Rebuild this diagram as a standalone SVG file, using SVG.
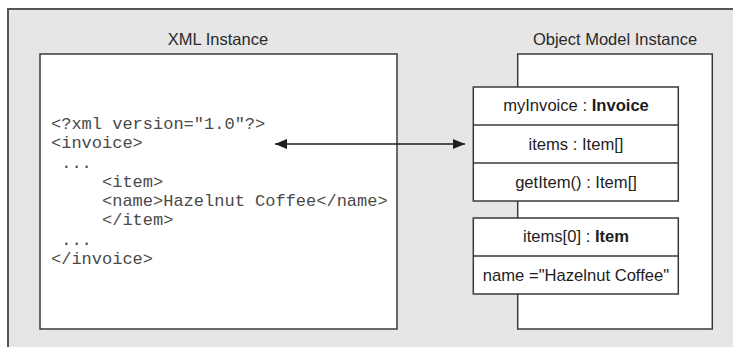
<svg xmlns="http://www.w3.org/2000/svg" width="733" height="347" viewBox="0 0 733 347">
<defs>
<style>
.title{font-family:"Liberation Sans",Arial,sans-serif;font-size:16.5px;fill:#2a2a2a;text-anchor:middle}
.code{font-family:"Liberation Mono","Courier New",monospace;font-size:17px;fill:#4a4a4a;white-space:pre}
.lbl{font-family:"Liberation Sans",Arial,sans-serif;font-size:16.6px;fill:#1e1e1e;text-anchor:middle}
.box{fill:#fff;stroke:#3a3a3a;stroke-width:1.5}
.conn{stroke:#1e1e1e;stroke-width:1.3;fill:none}
</style>
<marker id="ah" viewBox="0 0 12 10" refX="12" refY="5" markerWidth="12" markerHeight="10" markerUnits="userSpaceOnUse" orient="auto-start-reverse">
<path d="M0,0 L12,5 L0,10 Z" fill="#1e1e1e"/>
</marker>
</defs>
<rect x="8" y="9" width="740" height="350" fill="#e6e6e7" stroke="#555" stroke-width="2"/>
<g id="xml-instance">
<text class="title" x="218" y="45">XML Instance</text>
<rect class="box" x="40" y="54" width="357" height="275"/>
<text class="code" x="51" y="129">&lt;?xml version="1.0"?&gt;</text>
<text class="code" x="51" y="148.3">&lt;invoice&gt;</text>
<text class="code" x="51" y="167.5"> ...</text>
<text class="code" x="51" y="186.7">     &lt;item&gt;</text>
<text class="code" x="51" y="206">     &lt;name&gt;Hazelnut Coffee&lt;/name&gt;</text>
<text class="code" x="51" y="225">     &lt;/item&gt;</text>
<text class="code" x="51" y="244.5"> ...</text>
<text class="code" x="51" y="263.7">&lt;/invoice&gt;</text>
</g>
<g id="object-model-instance">
<text class="title" x="615" y="45">Object Model Instance</text>
<rect class="box" x="517.7" y="54" width="194.6" height="275"/>
</g>
<g id="myInvoice">
<rect class="box" x="473.3" y="87" width="205" height="114"/>
<line x1="473.3" y1="125" x2="678.3" y2="125" stroke="#3a3a3a" stroke-width="1.5"/>
<line x1="473.3" y1="163" x2="678.3" y2="163" stroke="#3a3a3a" stroke-width="1.5"/>
<text class="lbl" x="576" y="111">myInvoice : <tspan font-weight="bold">Invoice</tspan></text>
<text class="lbl" x="576" y="149.5">items : Item[]</text>
<text class="lbl" x="576" y="187.5">getItem() : Item[]</text>
</g>
<g id="items0">
<rect class="box" x="473.3" y="218" width="205" height="76"/>
<line x1="473.3" y1="256" x2="678.3" y2="256" stroke="#3a3a3a" stroke-width="1.5"/>
<text class="lbl" x="576" y="242">items[0] : <tspan font-weight="bold">Item</tspan></text>
<text class="lbl" x="576" y="280.5">name ="Hazelnut Coffee"</text>
</g>
<g id="connectors">
<line class="conn" x1="275" y1="144" x2="465" y2="144" marker-start="url(#ah)" marker-end="url(#ah)"/>
</g>
</svg>
